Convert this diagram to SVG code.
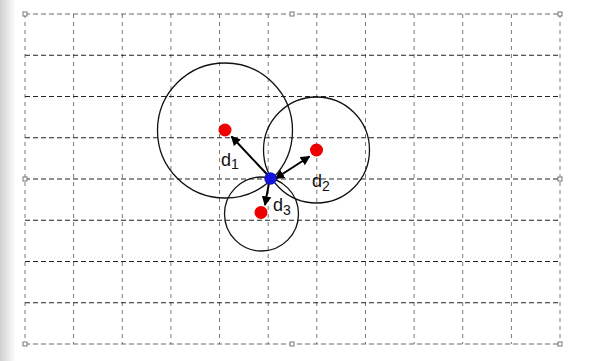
<svg xmlns="http://www.w3.org/2000/svg" width="591" height="361" viewBox="0 0 591 361">
<defs>
<linearGradient id="shade" x1="0" y1="0" x2="1" y2="0">
<stop offset="0" stop-color="#d0d0d0"/>
<stop offset="1" stop-color="#ffffff"/>
</linearGradient>
<marker id="ah" viewBox="0 0 10 10" refX="9" refY="5" markerWidth="4.8" markerHeight="4.8" orient="auto-start-reverse" markerUnits="strokeWidth">
<path d="M0,0 L10,5 L0,10 Z" fill="#000"/>
</marker>
</defs>
<style>
.vl{stroke:#7a7a7a;stroke-width:1;stroke-dasharray:4 4;fill:none}
.hl{stroke:#222;stroke-width:1;stroke-dasharray:5 3;fill:none}
.hb{stroke:#666;stroke-width:1;stroke-dasharray:5 3;fill:none}
.ring{fill:none;stroke:#111;stroke-width:1.3}
.red{fill:#ee0000}
.blue{fill:#1414d8}
.arr{stroke:#000;stroke-width:2;fill:none;marker-end:url(#ah)}
.handle{fill:#fff;stroke:#777;stroke-width:1}
.lbl{font-family:"Liberation Sans",Arial,sans-serif;font-size:18px;fill:#111}
.sub{font-size:14px}
</style>
<rect width="591" height="361" fill="#fff"/>
<rect x="0" y="0" width="16" height="361" fill="url(#shade)"/>
<g id="grid">
<line class="vl" x1="25" y1="14" x2="25" y2="344"/>
<line class="vl" x1="73.6" y1="14" x2="73.6" y2="344"/>
<line class="vl" x1="122.3" y1="14" x2="122.3" y2="344"/>
<line class="vl" x1="170.9" y1="14" x2="170.9" y2="344"/>
<line class="vl" x1="219.5" y1="14" x2="219.5" y2="344"/>
<line class="vl" x1="268.2" y1="14" x2="268.2" y2="344"/>
<line class="vl" x1="316.8" y1="14" x2="316.8" y2="344"/>
<line class="vl" x1="365.5" y1="14" x2="365.5" y2="344"/>
<line class="vl" x1="414.1" y1="14" x2="414.1" y2="344"/>
<line class="vl" x1="462.7" y1="14" x2="462.7" y2="344"/>
<line class="vl" x1="511.4" y1="14" x2="511.4" y2="344"/>
<line class="vl" x1="560" y1="14" x2="560" y2="344"/>
<line class="hb" x1="25" y1="14" x2="560" y2="14"/>
<line class="hl" x1="25" y1="55.25" x2="560" y2="55.25"/>
<line class="hl" x1="25" y1="96.5" x2="560" y2="96.5"/>
<line class="hl" x1="25" y1="137.75" x2="560" y2="137.75"/>
<line class="hl" x1="25" y1="179" x2="560" y2="179"/>
<line class="hl" x1="25" y1="220.25" x2="560" y2="220.25"/>
<line class="hl" x1="25" y1="261.5" x2="560" y2="261.5"/>
<line class="hl" x1="25" y1="302.75" x2="560" y2="302.75"/>
<line class="hb" x1="25" y1="344" x2="560" y2="344"/>
</g>
<g id="handles">
<rect class="handle" x="23" y="12" width="4" height="4"/>
<rect class="handle" x="290" y="12" width="4" height="4"/>
<rect class="handle" x="558" y="12" width="4" height="4"/>
<rect class="handle" x="23" y="177" width="4" height="4"/>
<rect class="handle" x="558" y="177" width="4" height="4"/>
<rect class="handle" x="23" y="342" width="4" height="4"/>
<rect class="handle" x="290" y="342" width="4" height="4"/>
<rect class="handle" x="558" y="342" width="4" height="4"/>
</g>
<g id="circles">
<circle id="circle1" class="ring" cx="225" cy="130.5" r="67.5"/>
<circle id="circle2" class="ring" cx="316.5" cy="150" r="53"/>
<circle id="circle3" class="ring" cx="261.5" cy="214" r="37"/>
</g>
<g id="connectors">
<line class="arr" x1="270" y1="177.5" x2="231.5" y2="136.5"/>
<line class="arr" x1="275.5" y1="178.5" x2="309.5" y2="156.5" style="marker-start:url(#ah)"/>
<line class="arr" x1="269.5" y1="180" x2="265" y2="205"/>
</g>
<g id="anchor1"><circle class="red" cx="225" cy="130" r="6.5"/></g>
<g id="anchor2"><circle class="red" cx="316.5" cy="150" r="6.5"/></g>
<g id="anchor3"><circle class="red" cx="261" cy="212.5" r="6.5"/></g>
<g id="target"><circle class="blue" cx="270.5" cy="178.5" r="6.2"/></g>
<g id="labels">
<text class="lbl" x="221" y="165.5">d<tspan class="sub" dy="3.5">1</tspan></text>
<text class="lbl" x="312" y="187">d<tspan class="sub" dy="3.5">2</tspan></text>
<text class="lbl" x="273" y="211">d<tspan class="sub" dy="3.5">3</tspan></text>
</g>
</svg>
